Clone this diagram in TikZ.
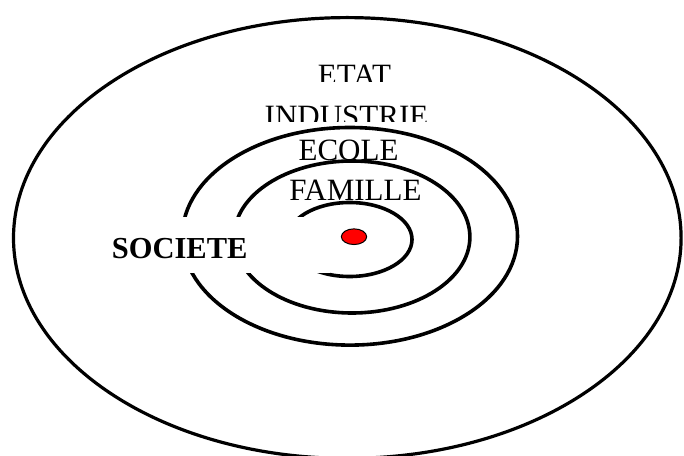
\documentclass[tikz,border=0pt]{standalone}
\usepackage{fontspec}
\setmainfont{Liberation Serif}
\usetikzlibrary{shapes.geometric}

\begin{document}
\begin{tikzpicture}[x=1pt, y=1pt,
    ring/.style={line width=3.6pt},
    niveau/.style={font=\fontsize{31}{31}\selectfont, inner sep=0pt, anchor=base}]
  \useasboundingbox (0,0) rectangle (684,455);

  % the circles of the society
  \draw[line width=3.2pt] (347.3,217) ellipse [x radius=333.8, y radius=220.4];
  \draw[ring] (349.9,218.7) ellipse [x radius=167.6, y radius=108.8];
  \draw[ring] (352,218) ellipse [x radius=117.9, y radius=76];
  \draw[ring] (349.6,215.5) ellipse [x radius=62.4, y radius=37];

  % labels, the two upper ones are cut at the bottom
  \begin{scope}
    \clip (0,373.3) rectangle (684,455);
    \node[niveau] (etat) at (354.5,369.5) {ETAT};
  \end{scope}
  \begin{scope}
    \clip (0,333.3) rectangle (684,373.3);
    \node[niveau] (industrie) at (346.5,328.8) {INDUSTRIE};
  \end{scope}
  \node[niveau] (ecole) at (348.5,294.5) {ECOLE};
  \node[niveau] (famille) at (355.5,254.5) {FAMILLE};

  \node[fill=white, font=\fontsize{30.5}{30.5}\selectfont\bfseries,
        inner xsep=11.7pt, inner ysep=0pt, text width=206.6pt, align=left,
        text height=41.3pt, text depth=14.7pt, anchor=base west]
    (societe) at (100,196.7) {SOCIETE};

  % the individual
  \node[ellipse, draw, line width=1pt, fill=red, inner sep=0pt,
        minimum width=25.3pt, minimum height=15.7pt] (individu) at (354,218.3) {};
\end{tikzpicture}
\end{document}
